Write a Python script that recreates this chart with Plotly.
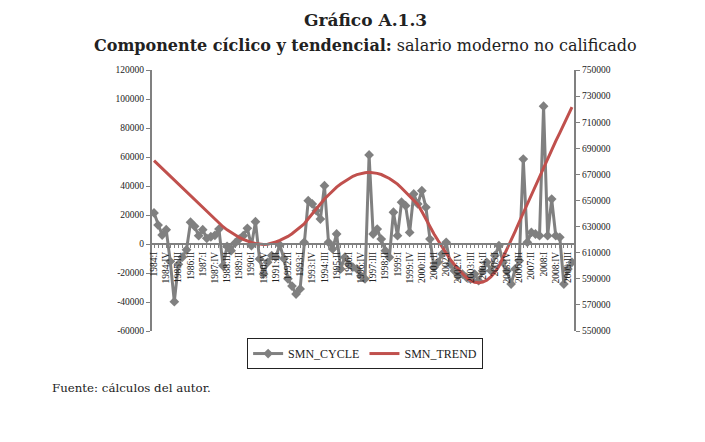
import plotly.graph_objects as go

# ---- data ----
years = list(range(1984, 2010))
roman = ["I", "II", "III", "IV"]
quarters = [f"{y}:{r}" for y in years for r in roman]  # 1984:I .. 2009:IV

smn_cycle = [
    21400, 13100, 6200, 9900, -12000, -39800, -14000, -9000, -4000, 15000,
    12200, 5700, 9900, 3900, 5000, 6000, 10300, -15000, -1600, -4600,
    700, 3400, 5700, 10800, -1200, 15400, -10300, -20700, -12600, -8000,
    -9000, -700, -10000, -24000, -29000, -34500, -31000, 1200, 29900, 27600,
    23000, 17200, 40200, 1200, -3400, 6900, -17200, -9200, -13800, -16000,
    -17200, -21900, -24000, 61400, 6900, 10300, 3400, -4600, -9200, 21900,
    5700, 28800, 26400, 8000, 34500, 27600, 36800, 25300, 3400, -16100,
    -12600, -6900, 1200, -13800, -18400, -21900, -20700, -23000, -24200, -20700,
    -25300, -18400, -12600, -18400, -8000, -1200, -12600, -18400, -27600, -17200,
    -11500, 58600, 1200, 8000, 6900, 5700, 95000, 5700, 31000, 5700,
    4600, -27600, -17200, -12600,
]

smn_trend = [
    680500, 677500, 674600, 671700, 668800, 665900, 662900, 660000, 657100, 654200,
    651000, 647800, 644700, 641500, 638700, 635800, 632800, 629900, 627500, 625400,
    623500, 621700, 620200, 618800, 617800, 617000, 616500, 616300, 616500, 617200,
    618200, 619400, 620800, 622500, 624500, 626800, 629300, 632000, 636000, 640000,
    644000, 648000, 651200, 654200, 657300, 660300, 662600, 664600, 666700, 668600,
    669800, 670700, 671300, 671600, 671400, 670800, 669900, 668600, 666900, 664800,
    662600, 659600, 656500, 653300, 650000, 647000, 641500, 635500, 630000, 624400,
    619300, 614500, 609500, 604800, 601000, 597300, 594000, 591000, 588800, 587400,
    586900, 587500, 589000, 591500, 595000, 599600, 606000, 612500, 619200, 626300,
    633500, 640500, 647400, 654400, 661400, 668400, 675200, 682300, 689200, 695500,
    701800, 708000, 714800, 721500,
]

left_ticks = list(range(-60000, 120001, 20000))
right_ticks = list(range(550000, 750001, 20000))

label_idx = list(range(0, len(quarters), 3))
label_txt = [quarters[i] for i in label_idx]
xs = list(range(len(quarters)))

GRAY = "#808080"
RED = "#C0504D"
SERIF = "Liberation Serif"
TITLE_FONT = "DejaVu Serif"

fig = go.Figure()
fig.add_trace(go.Scatter(
    x=xs, y=smn_cycle, name="SMN_CYCLE", mode="lines+markers",
    line=dict(color=GRAY, width=3),
    marker=dict(symbol="diamond", size=7.5, color=GRAY),
    yaxis="y",
))
fig.add_trace(go.Scatter(
    x=xs, y=smn_trend, name="SMN_TREND", mode="lines",
    line=dict(color=RED, width=3),
    yaxis="y2",
))

fig.update_layout(
    width=705, height=442,
    margin=dict(l=144, r=139, t=62, b=119),
    paper_bgcolor="white", plot_bgcolor="white",
    font=dict(family=SERIF, color="#222"),
    showlegend=True,
    legend=dict(
        orientation="h", x=0.505, xanchor="center", y=-0.027, yanchor="top",
        bordercolor="#222", borderwidth=1, bgcolor="white",
        font=dict(family=SERIF, size=12, color="#222"),
        itemwidth=30,
    ),
    xaxis=dict(
        range=[-0.5, len(quarters) - 0.5],
        tickmode="array", tickvals=label_idx, ticktext=label_txt,
        tickangle=-90, tickfont=dict(family=SERIF, size=9.5, color="#222"),
        anchor="free", position=1/3,
        showline=True, linecolor=GRAY, linewidth=2,
        ticks="outside", ticklen=3, tickcolor=GRAY, tickwidth=1,
        minor=dict(dtick=1, ticks="outside", ticklen=3, tickcolor=GRAY),
        showgrid=False, zeroline=False,
    ),
    yaxis=dict(
        range=[-60000, 120000], tickvals=left_ticks,
        ticktext=[str(v) for v in left_ticks],
        tickfont=dict(family=SERIF, size=9.5, color="#222"),
        showline=True, linecolor=GRAY, linewidth=2,
        ticks="outside", ticklen=4, tickcolor=GRAY,
        showgrid=False, zeroline=False,
    ),
    yaxis2=dict(
        range=[550000, 750000], tickvals=right_ticks,
        ticktext=[str(v) for v in right_ticks],
        overlaying="y", side="right",
        tickfont=dict(family=SERIF, size=9.5, color="#222"),
        showline=True, linecolor=GRAY, linewidth=2,
        ticks="outside", ticklen=4, tickcolor=GRAY,
        showgrid=False, zeroline=False,
    ),
)

fig.add_annotation(
    text="<b>Gráfico A.1.3</b>", xref="paper", yref="paper",
    x=0.505, y=1.19, xanchor="center", yanchor="middle", showarrow=False,
    font=dict(family=TITLE_FONT, size=17, color="#222"),
)
fig.add_annotation(
    text="<b>Componente cíclico y tendencial:</b> salario moderno no calificado",
    xref="paper", yref="paper",
    x=0.505, y=1.092, xanchor="center", yanchor="middle", showarrow=False,
    font=dict(family=TITLE_FONT, size=16, color="#222"),
)
fig.add_annotation(
    text="Fuente: cálculos del autor.", xref="paper", yref="paper",
    x=-0.242, y=-0.218, xanchor="left", yanchor="middle", showarrow=False,
    font=dict(family=TITLE_FONT, size=11.8, color="#222"),
)

fig.write_html("out.html")
